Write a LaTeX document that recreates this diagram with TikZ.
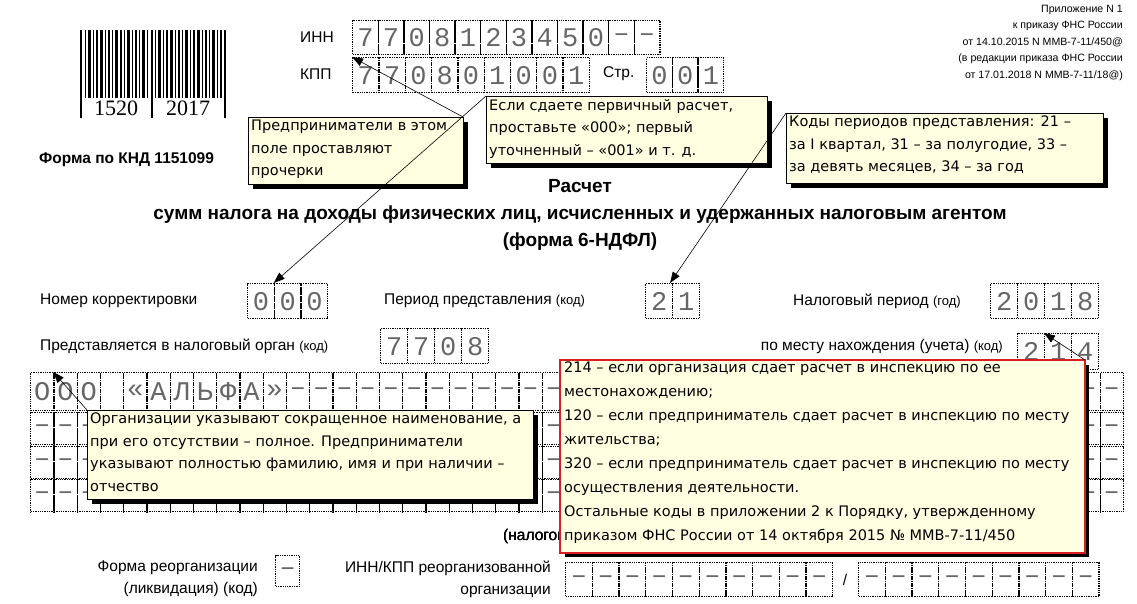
\documentclass[tikz,border=0pt]{standalone}
\usepackage{fontspec}
\setmainfont{Liberation Sans}
\newfontfamily\cellfont{Liberation Mono}
\newfontfamily\callfont{DejaVu Sans}
\newfontfamily\bcfont{Liberation Serif}
\usetikzlibrary{arrows.meta}
\definecolor{tipyel}{HTML}{FFFFE1}
\definecolor{tipred}{HTML}{D81E1E}
\tikzset{
  cellbox/.style={draw, densely dotted, line width=1.3pt, inner sep=0pt, anchor=north west, font=\cellfont\fontsize{27}{27}\selectfont, text=black!60},
  lbl/.style={font=\fontsize{15.5}{17}\selectfont, inner sep=0pt},
  calltext/.style={font=\callfont\fontsize{14.5}{22.5}\selectfont, align=left, anchor=north west, inner sep=3pt},
  ptr/.style={-{Triangle[length=11pt,width=8pt]}, line width=0.6pt},
}
\newcommand\kod{\fontsize{13}{14}\selectfont}
% #1 x, #2 y, #3 w, #4 h, #5 prefix, #6 list
\newcommand\cellrow[6]{\foreach \c [count=\i from 0] in {#6} {\node[cellbox, minimum width=#3pt, minimum height=#4pt] (#5\i) at ({#1+\i*#3},#2) {\c};}}
\newcommand\tipbox[5]{% name, x1,y1,x2,y2
  \fill[black] (#2+5,#3+5) rectangle (#4+5,#5+5);
  \draw[fill=tipyel, line width=0.6pt] (#2,#3) rectangle (#4,#5);
  \coordinate (#1) at (#2,#3);}
\begin{document}
\begin{tikzpicture}[x=1pt,y=-1pt]
\useasboundingbox (0,0) rectangle (1137,603);
% barcode
\foreach \xx/\ww in {80/2,85/1,88/3,93/1,96/2,100/3,105/1,108/2,112/1,115/3,120/2,124/1,127/3,132/1,135/2,139/1,142/3,147/1,151/2,155/1,158/3,163/1,166/2,170/3,175/1,178/2,182/1,185/3,190/1,193/2,197/3,202/1,205/2,209/1,212/3,217/1,220/2,224/2}
  \fill (\xx,30) rectangle (\xx+\ww,98);
\foreach \xx in {80,151,224} \fill (\xx,98) rectangle (\xx+2,118);
\node[font=\bcfont\fontsize{22}{22}\selectfont, inner sep=0pt] (bc1) at (116,108) {1520};
\node[font=\bcfont\fontsize{22}{22}\selectfont, inner sep=0pt] (bc2) at (188,108) {2017};
% INN / KPP
\node[lbl, anchor=west] (innl) at (300,37) {ИНН};
\cellrow{352}{20}{25.6}{34}{inn}{7,7,0,8,1,2,3,4,5,0,–,–}
\node[lbl, anchor=west] (kppl) at (300,74) {КПП};
\cellrow{352}{57}{26.3}{35}{kpp}{7,7,0,8,0,1,0,0,1}
\node[lbl, anchor=west] (strl) at (603,74) {Стр.};
\cellrow{646}{57}{25.7}{35}{str}{0,0,1}
% top-right
\node[font=\fontsize{10.6}{16.5}\selectfont, align=right, anchor=north east, inner sep=0pt] (app) at (1123,5)
 {Приложение N 1\\к приказу ФНС России\\от 14.10.2015 N ММВ-7-11/450@\\(в редакции приказа ФНС России\\от 17.01.2018 N ММВ-7-11/18@)};
\node[font=\bfseries\fontsize{15.5}{17}\selectfont, anchor=west, inner sep=0pt] (knd) at (39,160) {Форма по КНД 1151099};
% title
\node[font=\bfseries\fontsize{19}{27}\selectfont, align=center] (title) at (580,215)
 {Расчет\\сумм налога на доходы физических лиц, исчисленных и удержанных налоговым агентом\\(форма 6-НДФЛ)};
% row 1
\node[lbl, anchor=west] (nkl) at (40,301) {Номер корректировки};
\cellrow{247}{283}{26.7}{35}{nk}{0,0,0}
\node[lbl, anchor=west] (ppl) at (384,301) {Период представления {\kod(код)}};
\cellrow{645}{283}{27}{35}{pp}{2,1}
\node[lbl, anchor=west] (npl) at (793,301) {Налоговый период {\kod(год)}};
\cellrow{990}{283}{27}{35}{np}{2,0,1,8}
% row 2
\node[lbl, anchor=west] (pnl) at (40,346) {Представляется в налоговый орган {\kod(код)}};
\cellrow{380}{328}{27}{35}{pn}{7,7,0,8}
\node[lbl, anchor=east] (pml) at (1003,346) {по месту нахождения (учета) {\kod(код)}};
\cellrow{1017}{333}{27}{36}{pm}{2,1,4}
% name rows
\cellrow{30}{372}{23.25}{38}{nm}{О,О,О,{},«,А,Л,Ь,Ф,А,»,–,–,–,–,–,–,–,–,–,–,–,–,–,–,–,–,–,–,–,–,–,–,–,–,–,–,–,–,–,–,–,–,–,–,–,–}
\foreach \yy/\r in {412/a,446/b,479/c}
  \cellrow{30}{\yy}{23.25}{32}{r\r}{–,–,–,–,–,–,–,–,–,–,–,–,–,–,–,–,–,–,–,–,–,–,–,–,–,–,–,–,–,–,–,–,–,–,–,–,–,–,–,–,–,–,–,–,–,–,–}
\node[lbl, anchor=west] (nal) at (503,536) {(налогов};
% bottom
\node[lbl, align=right, anchor=east, font=\fontsize{15.5}{22}\selectfont] (frl) at (258,579) {Форма реорганизации\\(ликвидация) (код)};
\cellrow{275}{555}{24}{31}{fr}{–}
\node[lbl, align=right, anchor=east, font=\fontsize{15.5}{22}\selectfont] (ikl) at (551,579) {ИНН/КПП реорганизованной\\организации};
\cellrow{565}{562}{26.7}{34}{ik}{–,–,–,–,–,–,–,–,–,–}
\node[lbl] (slash) at (845,580) {/};
\cellrow{858}{562}{26.7}{34}{ij}{–,–,–,–,–,–,–,–,–}
% callouts
\tipbox{t1}{248}{117}{463}{184}
\node[calltext] (t1t) at (t1) {Предприниматели в этом\\поле проставляют\\прочерки};
\tipbox{t2}{486}{96}{767}{163}
\node[calltext] (t2t) at (t2) {Если сдаете первичный расчет,\\проставьте «000»; первый\\уточненный – «001» и т. д.};
\tipbox{t3}{786}{113}{1103}{183}
\node[calltext] (t3t) at (t3) {Коды периодов представления: 21 –\\за I квартал, 31 – за полугодие, 33 –\\за девять месяцев, 34 – за год};
\tipbox{t4}{87}{410}{533}{499}
\node[calltext] (t4t) at (t4) {Организации указывают сокращенное наименование, а\\при его отсутствии – полное. Предприниматели\\указывают полностью фамилию, имя и при наличии –\\отчество};
\fill[black] (565,365) rectangle (1089,557);
\draw[fill=tipyel, draw=tipred, line width=2.5pt] (560,360) rectangle (1085,553);
\coordinate (t5) at (560,360);
\node[calltext, font=\callfont\fontsize{14.5}{24}\selectfont] (t5t) at (561,359) {214 – если организация сдает расчет в инспекцию по ее\\местонахождению;\\120 – если предприниматель сдает расчет в инспекцию по месту\\жительства;\\320 – если предприниматель сдает расчет в инспекцию по месту\\осуществления деятельности.\\Остальные коды в приложении 2 к Порядку, утвержденному\\приказом ФНС России от 14 октября 2015 № ММВ-7-11/450};
% pointers
\coordinate (t1c) at (463,117);
\coordinate (t5c) at (1085,360);
\draw[ptr] (t1c) -- (kpp0.north west);
\draw[ptr] (t2) -- (nk1.north west);
\draw[ptr] (t3) -- ([xshift=-2pt]pp1.north west);
\draw[ptr] (t4) -- (nm1.north west);
\draw[ptr] (t5c) -- (pm1.north west);
\end{tikzpicture}
\end{document}
